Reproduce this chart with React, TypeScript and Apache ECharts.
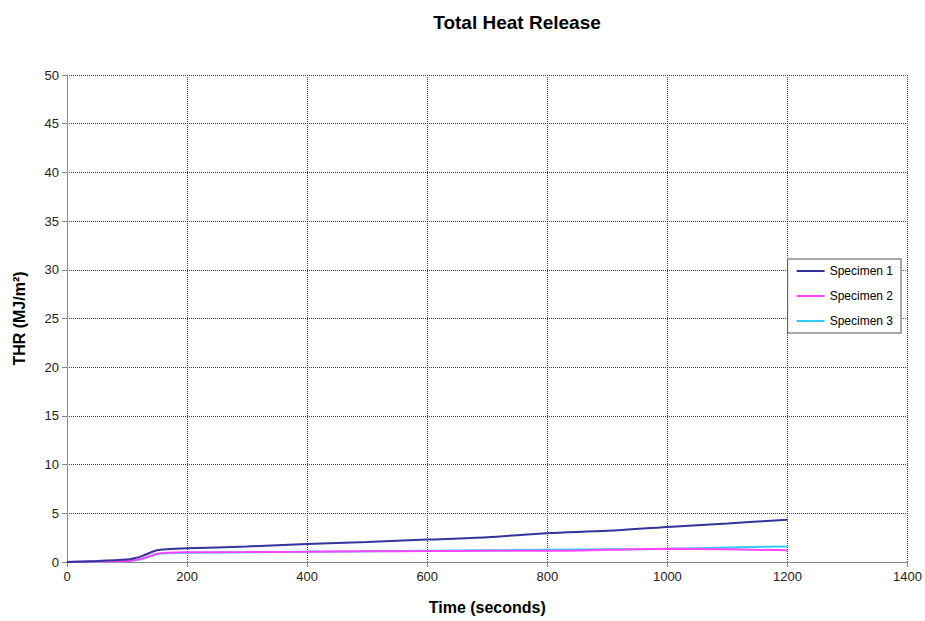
import React, { useEffect, useRef } from "react";
import * as echarts from "echarts";

const time = [0, 50, 100, 110, 125, 140, 150, 165, 200, 300, 400, 500, 600, 700, 800, 900, 1000, 1100, 1200];
const specimen1 = [0, 0.1, 0.25, 0.35, 0.6, 1.0, 1.2, 1.3, 1.4, 1.6, 1.85, 2.05, 2.3, 2.55, 2.95, 3.2, 3.6, 3.95, 4.35];
const specimen2 = [0, 0.05, 0.1, 0.15, 0.35, 0.65, 0.85, 0.95, 1.0, 1.02, 1.05, 1.1, 1.12, 1.15, 1.15, 1.25, 1.35, 1.3, 1.2];
const specimen3 = [0, 0.05, 0.1, 0.15, 0.3, 0.6, 0.8, 0.9, 0.95, 1.0, 1.05, 1.1, 1.15, 1.2, 1.25, 1.3, 1.35, 1.5, 1.6];
const seriesNames = ["Specimen 1", "Specimen 2", "Specimen 3"];
const seriesColors = ["#333399", "#FF44FF", "#33CCFF"];

export default function App() {
  const ref = useRef<HTMLDivElement>(null);
  useEffect(() => {
    if (!ref.current) return;
    const chart = echarts.init(ref.current, null, { renderer: "svg" });
    const values = [specimen1, specimen2, specimen3];
    const font = "Liberation Sans, Arial, sans-serif";
    chart.setOption({
      animation: false,
      backgroundColor: "#ffffff",
      textStyle: { fontFamily: font },
      title: {
        text: "Total Heat Release",
        left: 512,
        top: 8,
        textAlign: "center",
        textStyle: { fontSize: 19, fontWeight: "bold", color: "#000", fontFamily: font },
      },
      grid: { left: 67, right: 16, top: 75, bottom: 59, containLabel: false },
      legend: {
        orient: "vertical",
        right: 24,
        top: 259,
        data: seriesNames,
        backgroundColor: "#fff",
        borderColor: "#555",
        borderWidth: 1,
        padding: [6, 8, 6, 9],
        itemGap: 13,
        itemWidth: 28,
        itemHeight: 10,
        icon: "path://M0,4 L28,4 L28,6 L0,6 Z",
        textStyle: { fontSize: 12, color: "#000", fontFamily: font },
      },
      xAxis: {
        type: "value",
        min: 0,
        max: 1400,
        interval: 200,
        name: "Time (seconds)",
        nameLocation: "middle",
        nameGap: 37,
        nameTextStyle: { fontSize: 16, fontWeight: "bold", color: "#000" },
        axisLine: { show: true, lineStyle: { color: "#888", width: 1 } },
        axisTick: { show: true, inside: false, length: 5, lineStyle: { color: "#888" } },
        axisLabel: { fontSize: 13, color: "#222", margin: 8, formatter: (v: number) => String(v) },
        splitLine: { show: true, lineStyle: { color: "#444", type: [1, 1], width: 1 } },
      },
      yAxis: {
        type: "value",
        min: 0,
        max: 50,
        interval: 5,
        name: "THR (MJ/m²)",
        nameLocation: "middle",
        nameGap: 40,
        nameTextStyle: { fontSize: 16, fontWeight: "bold", color: "#000" },
        axisLine: { show: true, lineStyle: { color: "#888", width: 1 } },
        axisTick: { show: true, inside: false, length: 5, lineStyle: { color: "#888" } },
        axisLabel: { fontSize: 13, color: "#222", margin: 8 },
        splitLine: { show: true, lineStyle: { color: "#444", type: [1, 1], width: 1 } },
      },
      series: seriesNames.map((name, i) => ({
        name,
        type: "line",
        data: time.map((t, j) => [t, values[i][j]]),
        showSymbol: false,
        smooth: 0.3,
        lineStyle: { color: seriesColors[i], width: 2 },
        itemStyle: { color: seriesColors[i] },
        z: 10 - i,
      })),
    });
    return () => chart.dispose();
  }, []);
  return <div ref={ref} style={{ position: "fixed", left: 0, top: 0, width: 925, height: 621 }} />;
}
